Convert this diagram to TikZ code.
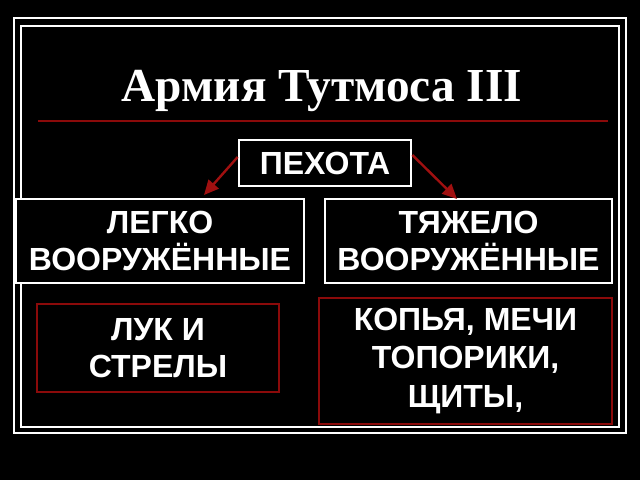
\documentclass[tikz,border=0pt]{standalone}
\usepackage{fontspec}
\setmainfont{Liberation Sans}
\newfontfamily\titlefont{Liberation Serif}
\usetikzlibrary{arrows.meta}
\definecolor{dred}{HTML}{8B0A0A}
\definecolor{ared}{HTML}{A01010}
\tikzset{
  wbox/.style={draw=white, line width=2pt, fill=black, text=white, font=\bfseries\fontsize{24}{28}\selectfont, align=center, inner sep=0pt},
  rbox/.style={draw=dred, line width=2pt, fill=black, text=white, font=\bfseries\fontsize{24}{28}\selectfont, align=center, inner sep=0pt},
  arr/.style={draw=ared, line width=1.8pt, -{Triangle[length=11pt,width=10pt]}}
}
\begin{document}
\begin{tikzpicture}[x=0.75pt,y=-0.75pt]
\fill[black] (0,0) rectangle (640,480);
\useasboundingbox (0,0) rectangle (640,480);
% frames
\draw[white, line width=2.2pt] (14,18) rectangle (626,433);
\draw[white, line width=1pt] (21,26) rectangle (619,427);
% title
\node[text=white, font=\titlefont\bfseries\fontsize{35.5}{40}\selectfont] (title) at (322,91) {Армия Тутмоса III};
\draw[dred, line width=1.2pt] (38,121) -- (608,121);
% boxes
\node[wbox, minimum width=172*0.75pt, minimum height=46*0.75pt] (inf) at (325,163) {ПЕХОТА};
\node[wbox, minimum width=288*0.75pt, minimum height=84*0.75pt] (light) at (160,241) {ЛЕГКО\\ВООРУЖЁННЫЕ};
\node[wbox, minimum width=287*0.75pt, minimum height=84*0.75pt] (heavy) at (468.5,241) {ТЯЖЕЛО\\ВООРУЖЁННЫЕ};
\node[rbox, minimum width=242*0.75pt, minimum height=88*0.75pt] (bows) at (158,348) {ЛУК И\\СТРЕЛЫ};
\node[rbox, minimum width=293*0.75pt, minimum height=126*0.75pt, font=\bfseries\fontsize{24}{29}\selectfont] (arms) at (465.5,361) {КОПЬЯ, МЕЧИ\\ТОПОРИКИ,\\ЩИТЫ,};
% arrows
\coordinate (la) at (204,195);
\coordinate (ra) at (457,199);
\draw[arr] (inf.west |- 0,157) -- (la);
\draw[arr] (inf.east |- 0,155) -- (ra);
\end{tikzpicture}
\end{document}
